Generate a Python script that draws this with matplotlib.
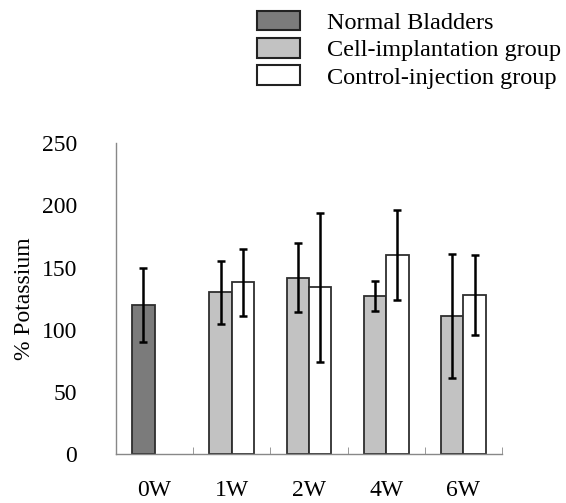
import numpy as np
import matplotlib
matplotlib.use('Agg')
from matplotlib import pyplot as plt
from matplotlib.patches import Patch

# Data
weeks = ['0W', '1W', '2W', '4W', '6W']
normal_mean = [120]
normal_err = [30]
cell_mean = [np.nan, 130, 142, 127, 111]
cell_err = [np.nan, 25.5, 28, 12, 50]
ctrl_mean = [np.nan, 138, 134, 160, 128]
ctrl_err = [np.nan, 27, 60, 36, 32]
yticks = [0, 50, 100, 150, 200, 250]

plt.rcParams['font.family'] = ['Liberation Serif', 'DejaVu Serif']

fig = plt.figure(figsize=(5.66, 5.03), dpi=100)
ax = fig.add_axes([116/566, 1 - 454/503, 386/566, (454 - 143.3)/503])

x = np.arange(len(weeks))
w = 0.29
edge = '#2e2e2e'
err_kw = dict(ecolor='black', elinewidth=1.8, capsize=3, capthick=1.8)

ax.bar(x[:1] - w/2, normal_mean, w, yerr=normal_err, color='#7b7b7b',
       edgecolor=edge, linewidth=1.3, error_kw=err_kw)
ax.bar(x[1:] - w/2, cell_mean[1:], w, yerr=cell_err[1:], color='#c2c2c2',
       edgecolor=edge, linewidth=1.3, error_kw=err_kw)
ax.bar(x[1:] + w/2, ctrl_mean[1:], w, yerr=ctrl_err[1:], color='white',
       edgecolor=edge, linewidth=1.3, error_kw=err_kw)

ax.set_xlim(-0.5, len(weeks) - 0.5)
ax.set_ylim(0, 250)
ax.set_yticks(yticks)
ax.set_xticks(x)
ax.set_xticklabels(weeks, fontsize=17)
ax.set_xticks(np.arange(len(weeks)) + 0.5, minor=True)
ax.tick_params(axis='x', which='major', length=0, pad=19)
ax.tick_params(axis='x', which='minor', direction='in', length=5, color='#888888')
ax.tick_params(axis='y', length=0, pad=28, labelsize=17)

for s in ['top', 'right']:
    ax.spines[s].set_visible(False)
for s in ['left', 'bottom']:
    ax.spines[s].set_color('#888888')
    ax.spines[s].set_linewidth(1.0)

ax.set_ylabel('% Potassium', fontsize=17, labelpad=5)

handles = [Patch(facecolor='#7b7b7b', edgecolor='#222222', linewidth=1.5),
           Patch(facecolor='#c2c2c2', edgecolor='#222222', linewidth=1.5),
           Patch(facecolor='white', edgecolor='#222222', linewidth=1.5)]
labels = ['Normal Bladders', 'Cell-implantation group', 'Control-injection group']
fig.legend(handles, labels, loc='upper left', bbox_to_anchor=(257/566, 1 - 11/503),
           frameon=False, fontsize=17.5, handlelength=1.75, handleheight=0.85,
           labelspacing=0.17, handletextpad=1.15, borderpad=0, borderaxespad=0)

fig.savefig('out.png', dpi=100)
